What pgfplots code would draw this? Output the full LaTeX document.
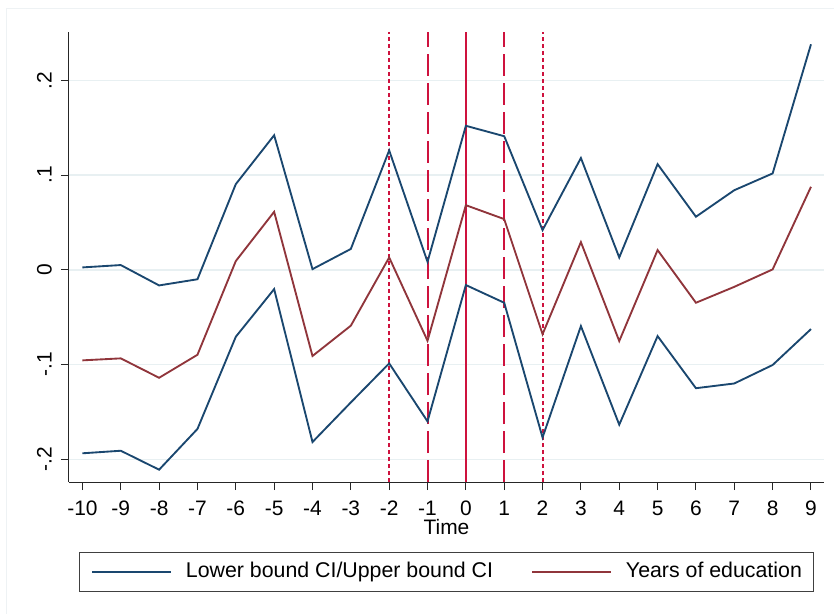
\documentclass[border=0pt]{standalone}
\usepackage{fontspec}
\setmainfont{Liberation Sans}
\usepackage{pgfplots}
\pgfplotsset{compat=1.18}
\definecolor{navy}{RGB}{26,71,111}
\definecolor{maroon}{RGB}{144,53,59}
\definecolor{cran}{RGB}{206,18,62}
\definecolor{gridc}{RGB}{232,240,242}
\definecolor{framec}{RGB}{238,242,244}
\begin{document}
\begin{tikzpicture}
\useasboundingbox (-51.75pt,-99pt) rectangle (573.75pt,361.5pt);
\draw[framec, line width=0.75pt] (-46.5pt,-99pt) -- (-46.5pt,354.75pt) -- (573.75pt,354.75pt);
\begin{axis}[
  at={(0,0)}, anchor=south west,
  width=566.25pt, height=337.5pt, scale only axis,
  xmin=-10.35, xmax=9.34, ymin=-0.224, ymax=0.251,
  axis lines*=left,
  axis line style={black!85, line width=0.75pt},
  tick align=outside, major tick length=6pt,
  tick style={black!85, line width=0.75pt},
  xtick={-10,...,9},
  xticklabels={-10,-9,-8,-7,-6,-5,-4,-3,-2,-1,0,1,2,3,4,5,6,7,8,9},
  ytick={-0.2,-0.1,0,0.1,0.2},
  yticklabels={-.2,-.1,0,.1,.2},
  ymajorgrids, grid style={gridc, line width=1.1pt},
  ticklabel style={font=\fontsize{15.7pt}{18pt}\selectfont, inner sep=0pt},
  yticklabel style={rotate=90, anchor=south},
  xticklabel style={anchor=north},
  xticklabel shift=8pt,
  yticklabel shift=6.75pt,
  xlabel={Time},
  xlabel style={at={(axis description cs:0.5,0)}, anchor=north, yshift=-27.75pt, inner sep=0pt, font=\fontsize{15.7pt}{18pt}\selectfont},
  legend columns=2,
  legend cell align=left,
  legend style={at={(axis description cs:0.5,0)}, anchor=north, yshift=-52.5pt,
    draw=black!75, line width=0.9pt, fill=white, inner xsep=8.5pt, inner ysep=7.2pt,
    nodes={inner sep=0pt, text height=11.5pt, text depth=3.3pt, font=\fontsize{16pt}{18pt}\selectfont},
    /tikz/every odd column/.style={column sep=10.5pt},
    /tikz/every even column/.style={column sep=28.5pt}},
  legend image code/.code={\draw[#1] (0pt,0pt) -- (59.25pt,0pt);},
]
\addplot[cran, line width=1.5pt, dash pattern=on 3pt off 2.25pt, forget plot] coordinates {(-2,-0.224) (-2,0.251)};
\addplot[cran, line width=1.5pt, dash pattern=on 16.5pt off 5.25pt, forget plot] coordinates {(-1,-0.224) (-1,0.251)};
\addplot[cran, line width=1.5pt, forget plot] coordinates {(0,-0.224) (0,0.251)};
\addplot[cran, line width=1.5pt, dash pattern=on 16.5pt off 5.25pt, forget plot] coordinates {(1,-0.224) (1,0.251)};
\addplot[cran, line width=1.5pt, dash pattern=on 3pt off 2.25pt, forget plot] coordinates {(2,-0.224) (2,0.251)};
\addplot[navy, line width=1.4pt] coordinates {
(-10,-0.1937) (-9,-0.191) (-8,-0.211) (-7,-0.168) (-6,-0.0707) (-5,-0.0204) (-4,-0.1818) (-3,-0.140) (-2,-0.0988) (-1,-0.160)
(0,-0.0161) (1,-0.0348) (2,-0.177) (3,-0.0594) (4,-0.1635) (5,-0.070) (6,-0.125) (7,-0.120) (8,-0.1005) (9,-0.0626)};
\addlegendentry{Lower bound CI/Upper bound CI}
\addplot[navy, line width=1.4pt, forget plot] coordinates {
(-10,0.0025) (-9,0.005) (-8,-0.0165) (-7,-0.010) (-6,0.0904) (-5,0.142) (-4,0.0007) (-3,0.022) (-2,0.126) (-1,0.0084)
(0,0.152) (1,0.141) (2,0.0419) (3,0.118) (4,0.013) (5,0.1115) (6,0.056) (7,0.084) (8,0.1017) (9,0.238)};
\addplot[maroon, line width=1.4pt] coordinates {
(-10,-0.0956) (-9,-0.0935) (-8,-0.114) (-7,-0.0897) (-6,0.0092) (-5,0.0612) (-4,-0.091) (-3,-0.059) (-2,0.013) (-1,-0.0749)
(0,0.0682) (1,0.0535) (2,-0.068) (3,0.0292) (4,-0.0752) (5,0.0208) (6,-0.0348) (7,-0.018) (8,0.0004) (9,0.0876)};
\addlegendentry{Years of education}
\end{axis}
\end{tikzpicture}
\end{document}
